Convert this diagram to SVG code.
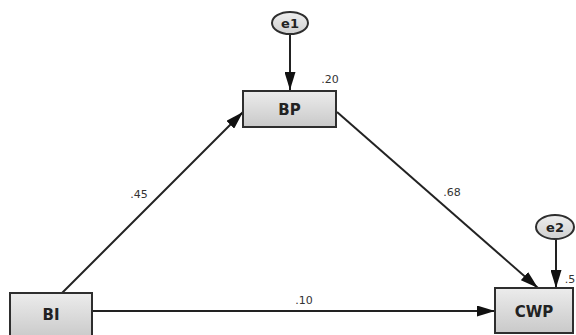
<svg xmlns="http://www.w3.org/2000/svg" width="576" height="335" viewBox="0 0 576 335">
  <style>
    .box { fill: url(#boxFill); stroke: #2e2e2e; stroke-width: 2; }
    .err { fill: url(#errFill); stroke: #2e2e2e; stroke-width: 2; }
    .name { font-family: "DejaVu Sans", "Liberation Sans", sans-serif; font-weight: bold; font-size: 15px; fill: #222; text-anchor: middle; }
    .ename { font-family: "DejaVu Sans", "Liberation Sans", sans-serif; font-weight: bold; font-size: 13px; fill: #222; text-anchor: middle; }
    .coef { font-family: "DejaVu Sans", "Liberation Sans", sans-serif; font-size: 11px; fill: #333; text-anchor: middle; }
    .path { stroke: #222; stroke-width: 2; fill: none; marker-end: url(#arrow); }
  </style>
  <defs>
    <linearGradient id="boxFill" x1="0" y1="0" x2="0" y2="1">
      <stop offset="0" stop-color="#ececec"/>
      <stop offset="1" stop-color="#c9c9c9"/>
    </linearGradient>
    <linearGradient id="errFill" x1="0" y1="0" x2="0" y2="1">
      <stop offset="0" stop-color="#eeeeee"/>
      <stop offset="1" stop-color="#d0d0d0"/>
    </linearGradient>
    <marker id="arrow" viewBox="0 0 18 11" refX="18" refY="5.5" markerWidth="18" markerHeight="11" markerUnits="userSpaceOnUse" orient="auto">
      <path d="M0,0 L18,5.5 L0,11 Z" fill="#111"/>
    </marker>
  </defs>

  <rect width="576" height="335" fill="#ffffff"/>

  <!-- regression paths -->
  <g id="connectors">
    <line class="path" x1="290" y1="35" x2="290" y2="90"/>
    <line class="path" x1="556" y1="239" x2="556" y2="288"/>
    <line class="path" x1="62" y1="293" x2="243" y2="112"/>
    <line class="path" x1="337" y1="112" x2="538" y2="288"/>
    <line class="path" x1="92" y1="311" x2="495" y2="311"/>
    <text class="coef" x="139" y="198">.45</text>
    <text class="coef" x="452" y="196">.68</text>
    <text class="coef" x="304" y="304">.10</text>
  </g>

  <g id="e1">
    <ellipse class="err" cx="290" cy="23" rx="18" ry="11"/>
    <text class="ename" x="290" y="28">e1</text>
  </g>

  <g id="e2">
    <ellipse class="err" cx="555" cy="227" rx="19" ry="12"/>
    <text class="ename" x="555" y="232">e2</text>
  </g>

  <g id="BP">
    <rect class="box" x="243" y="91" width="93" height="36"/>
    <text class="name" x="289.5" y="115">BP</text>
    <text class="coef" x="330" y="83">.20</text>
  </g>

  <g id="BI">
    <rect class="box" x="10" y="293" width="82" height="46"/>
    <text class="name" x="51" y="320">BI</text>
  </g>

  <g id="CWP">
    <rect class="box" x="495" y="288" width="78" height="45"/>
    <text class="name" x="534" y="317">CWP</text>
    <text class="coef" x="570" y="283">.5</text>
  </g>
</svg>
